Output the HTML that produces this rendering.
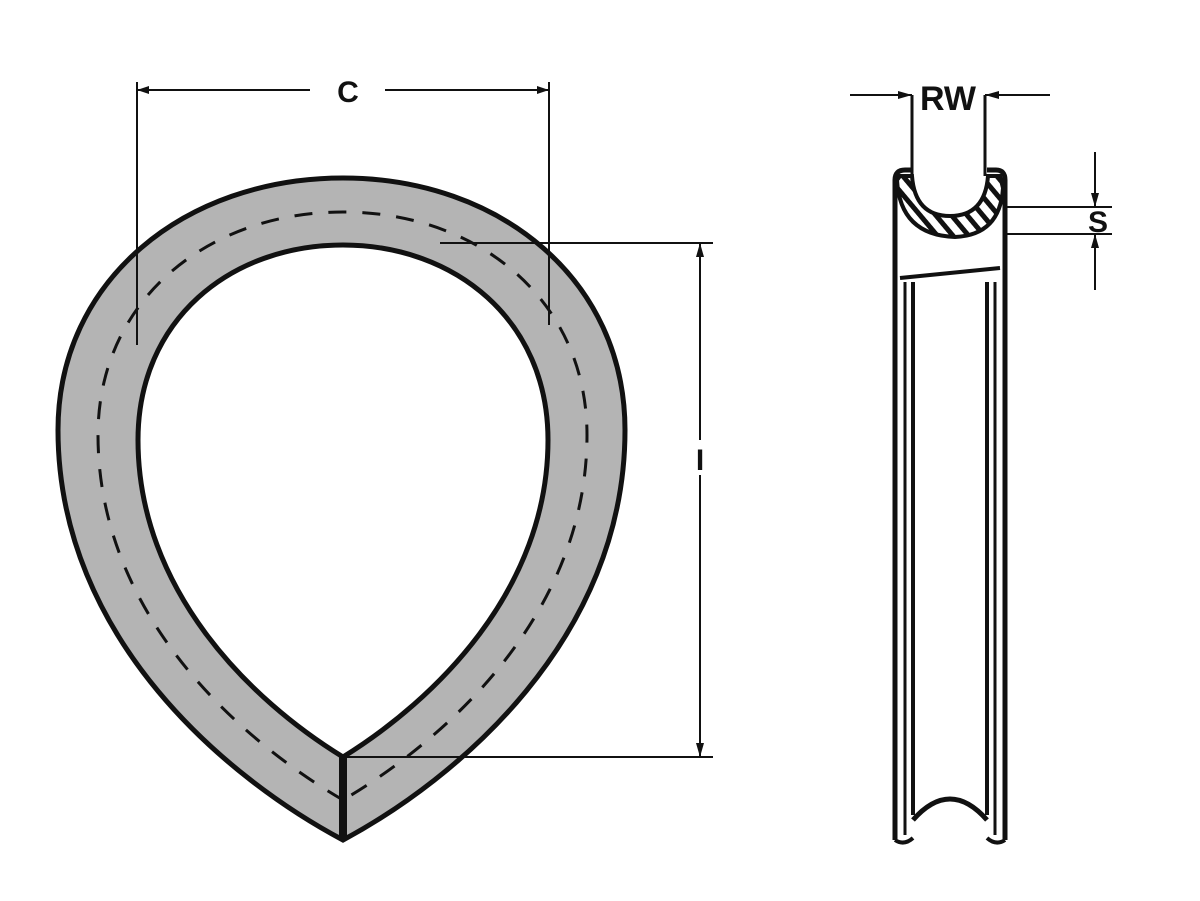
<!DOCTYPE html>
<html><head><meta charset="utf-8"><style>
html,body{margin:0;padding:0;background:#fff;}
svg{display:block;}
text{font-family:"Liberation Sans",sans-serif;font-weight:bold;fill:#111;}
</style></head><body>
<svg width="1200" height="901" viewBox="0 0 1200 901" xmlns="http://www.w3.org/2000/svg">
<defs>
<pattern id="hat" width="12" height="12" patternUnits="userSpaceOnUse" patternTransform="rotate(-40)">
<rect width="12" height="12" fill="#fff"/>
<rect width="5" height="12" fill="#111"/>
</pattern>
</defs>
<path fill-rule="evenodd" fill="#b4b4b4" stroke="#111" stroke-width="5"
 d="M343,840 C230,780 58,640 58,430 C58,280 185,178 343,178 C500,178 625,280 625,430 C625,640 455,780 343,840 Z
    M343,757 C250,700 138,590 138,440 C138,320 230,245 343,245 C455,245 548,320 548,440 C548,590 435,700 343,757 Z"/>
<path fill="none" stroke="#111" stroke-width="3" stroke-dasharray="18,16"
 d="M343,800 C240,740 98,615 98,435 C98,300 208,212 343,212 C478,212 587,300 587,435 C587,615 445,740 343,800"/>
<line x1="343" y1="757" x2="343" y2="840" stroke="#111" stroke-width="8"/>
<g stroke="#111" stroke-width="2" fill="none">
<line x1="137" y1="82" x2="137" y2="345"/>
<line x1="549" y1="82" x2="549" y2="325"/>
<line x1="137" y1="90" x2="310" y2="90"/>
<line x1="385" y1="90" x2="549" y2="90"/>
<line x1="440" y1="243" x2="713" y2="243"/>
<line x1="343" y1="757" x2="713" y2="757"/>
<line x1="700" y1="243" x2="700" y2="440"/>
<line x1="700" y1="475" x2="700" y2="757"/>
</g>
<path d="M700,243 l-4,14 h8 z M700,757 l-4,-14 h8 z M137,90 l12,-4 v8 z M549,90 l-12,-4 v8 z" fill="#111"/>
<text x="348" y="102" font-size="30" text-anchor="middle">C</text>
<text x="700" y="470" font-size="30" text-anchor="middle">I</text>
<!-- side view -->
<path d="M897,180 Q900,235 955,237 Q1000,235 1003,188 L1000,176 L988,176 Q985,216 950,216 Q915,216 912,176 L900,176 Z" fill="url(#hat)" stroke="#111" stroke-width="4"/>
<g stroke="#111" fill="none">
<path d="M895,840 V180 Q895,170 905,170 H912" stroke-width="5"/>
<path d="M987,170 H996 Q1005,170 1005,180 V840" stroke-width="5"/>
<line x1="905" y1="282" x2="905" y2="835" stroke-width="3"/>
<line x1="995" y1="282" x2="995" y2="835" stroke-width="3"/>
<line x1="913" y1="282" x2="913" y2="815" stroke-width="4"/>
<line x1="987" y1="282" x2="987" y2="815" stroke-width="4"/>
<path d="M913,820 Q950,778 987,820" stroke-width="5"/>
<path d="M895,840 Q904,846 913,838 M987,838 Q996,846 1005,840" stroke-width="4"/>
<path d="M900,278 L1000,268" stroke-width="4"/>
</g>
<g stroke="#111" stroke-width="2" fill="none">
<line x1="912" y1="95" x2="912" y2="176" stroke-width="3"/>
<line x1="985" y1="95" x2="985" y2="176" stroke-width="3"/>
<line x1="850" y1="95" x2="912" y2="95"/>
<line x1="985" y1="95" x2="1050" y2="95"/>
<line x1="1005" y1="207" x2="1112" y2="207"/>
<line x1="1005" y1="234" x2="1112" y2="234"/>
<line x1="1095" y1="152" x2="1095" y2="207"/>
<line x1="1095" y1="234" x2="1095" y2="290"/>
</g>
<path d="M912,95 l-14,-4 v8 z M985,95 l14,-4 v8 z M1095,207 l-4,-14 h8 z M1095,234 l-4,14 h8 z" fill="#111"/>
<text x="948" y="110" font-size="34" text-anchor="middle">RW</text>
<text x="1098" y="232" font-size="30" text-anchor="middle">S</text>
</svg>
</body></html>
